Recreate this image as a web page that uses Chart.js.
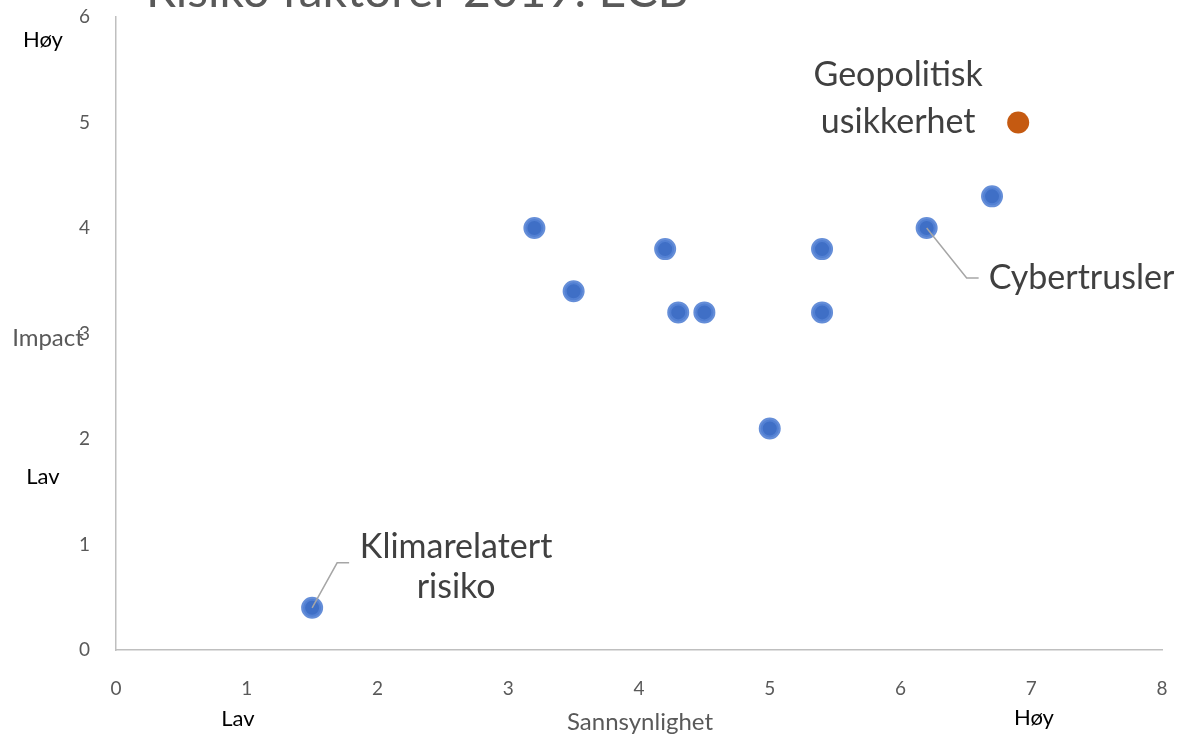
<!DOCTYPE html>
<html>
<head>
<meta charset="utf-8">
<script src="https://cdn.jsdelivr.net/npm/chart.js@4"></script>
<style>
  html, body { margin: 0; padding: 0; background: #fff; }
  #wrap { width: 1180px; height: 735px; position: relative; }
</style>
</head>
<body>
<div id="wrap"><canvas id="myChart" width="1180" height="735"></canvas></div>
<script>
// data
var riskX = [1.5, 3.2, 3.5, 4.2, 4.3, 4.5, 5.0, 5.4, 5.4, 6.2, 6.7];
var riskY = [0.4, 4.0, 3.4, 3.8, 3.2, 3.2, 2.1, 3.8, 3.2, 4.0, 4.3];
var geoX = [6.9];
var geoY = [5.0];
var xTicks = [0, 1, 2, 3, 4, 5, 6, 7, 8];
var yTicks = [0, 1, 2, 3, 4, 5, 6];
var titleText = "Risiko faktorer 2019: ECB";

function toPoints(xs, ys) {
  var pts = [];
  for (var i = 0; i < xs.length; i++) pts.push({ x: xs[i], y: ys[i] });
  return pts;
}

var FONT = "Lato, 'Open Sans', sans-serif";

function noPad(s) {
  s.paddingTop = 0;
  s.paddingBottom = 0;
  s.paddingLeft = 0;
  s.paddingRight = 0;
}

// extra texts + leader lines
var extras = {
  id: "extras",
  afterDraw: function (chart) {
    var c = chart.ctx;
    var xs = chart.scales.x, ys = chart.scales.y;
    c.save();

    // title (cut off at top)
    c.fillStyle = "#595959";
    c.font = "48px " + FONT;
    c.textAlign = "left";
    c.textBaseline = "alphabetic";
    c.fillText(titleText, 146, 7);

    // axis side labels
    c.font = "22px " + FONT;
    c.fillStyle = "#000";
    c.textAlign = "center";
    c.textBaseline = "middle";
    c.fillText("Høy", 43, 40);
    c.fillText("Lav", 43, 477);
    c.fillText("Lav", 238, 719);
    c.fillText("Høy", 1034, 718);
    c.font = "24px " + FONT;
    c.fillStyle = "#595959";
    c.fillText("Impact", 48, 338);
    c.fillText("Sannsynlighet", 640, 722);

    // data labels
    c.font = "34px " + FONT;
    c.fillStyle = "#404040";
    c.textAlign = "center";
    c.textBaseline = "middle";

    var gx = xs.getPixelForValue(geoX[0]), gy = ys.getPixelForValue(geoY[0]);
    c.fillText("Geopolitisk", gx - 120, gy - 47);
    c.fillText("usikkerhet", gx - 120, gy);

    // Cybertrusler
    var cx = xs.getPixelForValue(riskX[9]), cy = ys.getPixelForValue(riskY[9]);
    c.strokeStyle = "#A6A6A6";
    c.lineWidth = 1.5;
    c.beginPath();
    c.moveTo(cx, cy);
    c.lineTo(cx + 40, cy + 50);
    c.lineTo(cx + 52, cy + 50);
    c.stroke();
    c.textAlign = "left";
    c.fillText("Cybertrusler", cx + 62, cy + 50);

    // Klimarelatert risiko
    var kx = xs.getPixelForValue(riskX[0]), ky = ys.getPixelForValue(riskY[0]);
    c.beginPath();
    c.moveTo(kx, ky);
    c.lineTo(kx + 25, ky - 45);
    c.lineTo(kx + 37, ky - 45);
    c.stroke();
    c.textAlign = "center";
    c.fillText("Klimarelatert", kx + 144, ky - 61);
    c.fillText("risiko", kx + 144, ky - 21);

    c.restore();
  }
};

var ctx = document.getElementById("myChart").getContext("2d");
var myChart = new Chart(ctx, {
  type: "scatter",
  data: {
    datasets: [
      {
        label: "Risiko",
        data: toPoints(riskX, riskY),
        pointRadius: 9,
        pointBackgroundColor: "#3F6FC6",
        pointBorderColor: "rgba(84,130,212,0.9)",
        pointBorderWidth: 4,
      },
      {
        label: "Geopolitisk usikkerhet",
        data: toPoints(geoX, geoY),
        pointRadius: 11,
        pointBackgroundColor: "#C55A11",
        pointBorderColor: "#C55A11",
        pointBorderWidth: 0,
      },
    ],
  },
  options: {
    responsive: false,
    animation: false,
    layout: { padding: { left: 0, top: 17, right: 18, bottom: 0 } },
    plugins: {
      legend: { display: false },
      tooltip: { enabled: false },
    },
    scales: {
      x: {
        type: "linear",
        min: 0,
        max: 8,
        afterBuildTicks: function (s) { s.ticks = xTicks.map(function (v) { return { value: v }; }); },
        afterFit: function (s) { s.height = 85; noPad(s); },
        grid: { display: false },
        border: { display: true, color: "#BFBFBF", width: 1.5 },
        ticks: { color: "#595959", font: { family: FONT, size: 19 }, padding: 19 },
      },
      y: {
        type: "linear",
        min: 0,
        max: 6,
        afterBuildTicks: function (s) { s.ticks = yTicks.map(function (v) { return { value: v }; }); },
        afterFit: function (s) { s.width = 116; noPad(s); },
        grid: { display: false },
        border: { display: true, color: "#BFBFBF", width: 1.5 },
        ticks: { color: "#595959", font: { family: FONT, size: 19 }, padding: 18 },
      },
    },
  },
  plugins: [extras],
});
</script>
</body>
</html>
